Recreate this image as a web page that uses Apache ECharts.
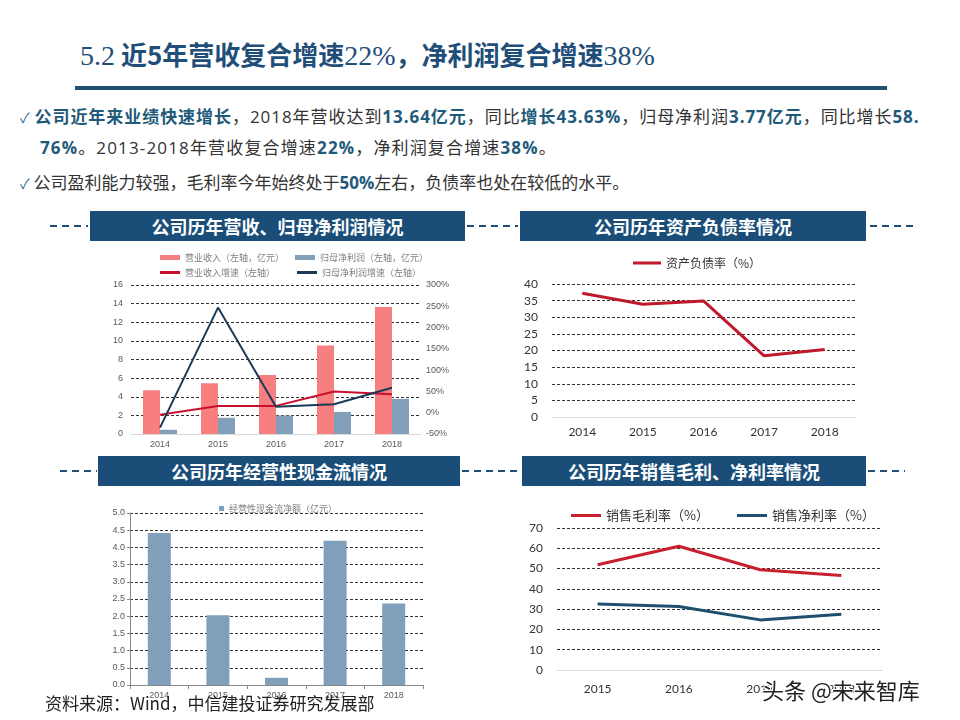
<!DOCTYPE html>
<html>
<head>
<meta charset="utf-8">
<script src="https://cdn.jsdelivr.net/npm/echarts@6/dist/echarts.min.js"></script>
<style>
body{margin:0;width:960px;height:720px;background:#fff;position:relative;overflow:hidden;font-family:"Noto Sans CJK SC",sans-serif;}
.abs{position:absolute;white-space:nowrap;}
.title{left:80px;top:36px;font-size:26px;color:#1f4e79;font-weight:bold;line-height:36px;}
.title .num{font-family:"Liberation Serif",serif;font-weight:normal;font-size:28px;}
.bul{font-size:17px;color:#333;line-height:24px;font-family:"Open Sans","Noto Sans CJK SC",sans-serif;}
.bul b{color:#1f5a7a;font-weight:bold;}
.chk{color:#2f6b8c;font-size:14px;margin-right:4px;}
.hdr{background:#1a4e78;color:#fff;font-weight:bold;font-size:18px;text-align:center;line-height:30px;height:30px;}
#chart{position:absolute;left:0;top:0;width:960px;height:720px;}
.src{left:45px;top:690px;font-size:17px;color:#222;line-height:26px;}
.wm{left:762px;top:674px;font-size:22px;color:#222;line-height:30px;
 text-shadow:1px 1px 0 #fff,-1px -1px 0 #fff,1px -1px 0 #fff,-1px 1px 0 #fff;}
</style>
</head>
<body>
<div class="abs title"><span class="num">5.2</span> 近5年营收复合增速<span class="num">22%</span>，净利润复合增速<span class="num">38%</span></div>
<div class="abs" style="left:75px;top:86px;width:812px;height:4px;background:#1f4e6e;"></div>
<div class="abs bul" style="left:20px;top:105px;letter-spacing:0.95px;"><span class="chk">✓</span><b>公司近年来业绩快速增长</b>，2018年营收达到<b>13.64亿元</b>，同比<b>增长43.63%</b>，归母净利润<b>3.77亿元</b>，同比增长<b>58.</b></div>
<div class="abs bul" style="left:40px;top:136px;letter-spacing:1.15px;"><b>76%</b>。2013-2018年营收复合增速<b>22%</b>，净利润复合增速<b>38%</b>。</div>
<div class="abs bul" style="left:20px;top:171px;letter-spacing:0px;"><span class="chk">✓</span>公司盈利能力较强，毛利率今年始终处于<b>50%</b>左右，负债率也处在较低的水平。</div>

<svg class="abs" style="left:0;top:0" width="960" height="720">
 <g stroke="#1f4e79" stroke-width="2" stroke-dasharray="7 5">
  <line x1="50" y1="226" x2="88" y2="226"/>
  <line x1="467" y1="226" x2="518" y2="226"/>
  <line x1="870" y1="226" x2="916" y2="226"/>
  <line x1="60" y1="471" x2="97" y2="471"/>
  <line x1="462" y1="471" x2="521" y2="471"/>
  <line x1="868" y1="471" x2="905" y2="471"/>
 </g>
</svg>
<div class="abs hdr" style="left:90px;top:211px;width:375px;">公司历年营收、归母净利润情况</div>
<div class="abs hdr" style="left:520px;top:211px;width:346px;">公司历年资产负债率情况</div>
<div class="abs hdr" style="left:98px;top:456px;width:362px;">公司历年经营性现金流情况</div>
<div class="abs hdr" style="left:522px;top:456px;width:344px;">公司历年销售毛利、净利率情况</div>

<div id="chart"></div>
<div class="abs src">资料来源：Wind，中信建投证券研究发展部</div>
<div class="abs wm">头条 @未来智库</div>

<script>
// ---- data ----
const years = ['2014', '2015', '2016', '2017', '2018'];
const revenue = [4.7, 5.45, 6.33, 9.5, 13.64];
const netProfit = [0.45, 1.74, 1.98, 2.37, 3.77];
const revenueGrowth = [-5, 16, 16, 50, 43.63];
const profitGrowth = [-35, 247, 14, 20, 58.76];

const debtRatio = [37.2, 33.9, 34.9, 18.4, 20.3];

const cashFlow = [4.42, 2.03, 0.21, 4.19, 2.37];

const marginYears = ['2015', '2016', '2017', '2018'];
const grossMargin = [51.9, 61.0, 49.4, 46.6];
const netMargin = [32.5, 31.3, 24.7, 27.5];

// ---- styles ----
const smallLbl = {fontFamily: 'Liberation Sans', fontSize: 9, color: '#595959'};
const bigLbl = {fontFamily: 'Lato', fontSize: 12, color: '#333'};
const legTxt = {fontFamily: 'Noto Sans CJK SC', fontSize: 9, color: '#7f7f7f'};
function dashColors(n, first) {
  const a = [first];
  for (let i = 1; i < n; i++) a.push('#333');
  return a;
}

const chart = echarts.init(document.getElementById('chart'), null, {renderer: 'canvas'});
chart.setOption({
  animation: false,
  backgroundColor: 'transparent',
  grid: [
    {left: 131, top: 285, width: 290, height: 149},
    {left: 552, top: 284, width: 303, height: 133},
    {left: 130, top: 513, width: 293, height: 172},
    {left: 557, top: 528, width: 325, height: 142}
  ],
  legend: [
    {left: 155, top: 248, itemWidth: 20, itemHeight: 5, itemGap: 11, icon: 'rect',
     textStyle: legTxt, data: ['营业收入（左轴，亿元）', '归母净利润（左轴，亿元）']},
    {left: 155, top: 263, itemWidth: 20, itemHeight: 3, itemGap: 22, icon: 'rect',
     textStyle: legTxt, data: ['营业收入增速（左轴）', '归母净利润增速（左轴）']},
    {left: 628, top: 252, itemWidth: 28, itemHeight: 3, icon: 'rect',
     textStyle: {fontFamily: 'Noto Sans CJK SC', fontSize: 12, color: '#333'}, data: ['资产负债率（%）']},
    {left: 214, top: 499, itemWidth: 5, itemHeight: 5, icon: 'rect', itemGap: 2,
     textStyle: legTxt, data: ['经营性现金流净额（亿元）']},
    {left: 566, top: 504, itemWidth: 30, itemHeight: 3, icon: 'rect', itemGap: 28,
     textStyle: {fontFamily: 'Noto Sans CJK SC', fontSize: 13, color: '#333'}, data: ['销售毛利率（%）', '销售净利率（%）']}
  ],
  xAxis: [
    {type: 'category', gridIndex: 0, data: years, axisTick: {show: false},
     axisLine: {lineStyle: {color: '#d9d9d9'}}, axisLabel: Object.assign({margin: 6}, smallLbl)},
    {type: 'category', gridIndex: 1, data: years, axisTick: {show: false},
     axisLine: {lineStyle: {color: '#d9d9d9'}}, axisLabel: Object.assign({margin: 9}, bigLbl)},
    {type: 'category', gridIndex: 2, data: years, axisTick: {show: true, length: 4, lineStyle: {color: '#888'}},
     axisLine: {lineStyle: {color: '#888'}}, axisLabel: Object.assign({margin: 6}, smallLbl)},
    {type: 'category', gridIndex: 3, data: marginYears, axisTick: {show: false},
     axisLine: {lineStyle: {color: '#d9d9d9'}}, axisLabel: Object.assign({margin: 13}, bigLbl)}
  ],
  yAxis: [
    {type: 'value', gridIndex: 0, min: 0, max: 16, interval: 2,
     axisLine: {show: false}, axisTick: {show: false}, axisLabel: Object.assign({margin: 8}, smallLbl),
     splitLine: {lineStyle: {type: [3, 2], width: 1.2, color: dashColors(9, 'rgba(0,0,0,0)')}}},
    {type: 'value', gridIndex: 0, min: -50, max: 300, interval: 50, position: 'right',
     axisLine: {show: false}, axisTick: {show: false}, splitLine: {show: false},
     axisLabel: Object.assign({margin: 5, formatter: '{value}%'}, smallLbl)},
    {type: 'value', gridIndex: 1, min: 0, max: 40, interval: 5,
     axisLine: {show: false}, axisTick: {show: false}, axisLabel: Object.assign({margin: 14}, bigLbl),
     splitLine: {lineStyle: {type: [3, 2], width: 1, color: dashColors(9, 'rgba(0,0,0,0)')}}},
    {type: 'value', gridIndex: 2, min: 0, max: 5, interval: 0.5,
     axisLine: {show: true, lineStyle: {color: '#888'}}, axisTick: {show: true, length: 3, lineStyle: {color: '#888'}},
     axisLabel: Object.assign({margin: 5, formatter: v => v.toFixed(1)}, smallLbl),
     splitLine: {lineStyle: {type: [3, 2], width: 1.2, color: dashColors(11, 'rgba(0,0,0,0)')}}},
    {type: 'value', gridIndex: 3, min: 0, max: 70, interval: 10,
     axisLine: {show: false}, axisTick: {show: false}, axisLabel: Object.assign({margin: 14}, bigLbl),
     splitLine: {lineStyle: {type: [3, 2], width: 1, color: dashColors(8, 'rgba(0,0,0,0)')}}}
  ],
  series: [
    {name: '营业收入（左轴，亿元）', type: 'bar', xAxisIndex: 0, yAxisIndex: 0, data: revenue,
     barWidth: 17, barGap: '0%', itemStyle: {color: '#f77f7f'}},
    {name: '归母净利润（左轴，亿元）', type: 'bar', xAxisIndex: 0, yAxisIndex: 0, data: netProfit,
     barWidth: 17, barGap: '0%', itemStyle: {color: '#819fb9'}},
    {name: '营业收入增速（左轴）', type: 'line', xAxisIndex: 0, yAxisIndex: 1, data: revenueGrowth,
     symbol: 'none', lineStyle: {color: '#c8102e', width: 2}, itemStyle: {color: '#c8102e'}},
    {name: '归母净利润增速（左轴）', type: 'line', xAxisIndex: 0, yAxisIndex: 1, data: profitGrowth,
     symbol: 'none', lineStyle: {color: '#1b3a57', width: 2}, itemStyle: {color: '#1b3a57'}},
    {name: '资产负债率（%）', type: 'line', xAxisIndex: 1, yAxisIndex: 2, data: debtRatio,
     symbol: 'none', lineStyle: {color: '#c0192b', width: 3}, itemStyle: {color: '#c0192b'}},
    {name: '经营性现金流净额（亿元）', type: 'bar', xAxisIndex: 2, yAxisIndex: 3, data: cashFlow,
     barWidth: 23, itemStyle: {color: '#809fba'}},
    {name: '销售毛利率（%）', type: 'line', xAxisIndex: 3, yAxisIndex: 4, data: grossMargin,
     symbol: 'none', lineStyle: {color: '#c8202f', width: 3}, itemStyle: {color: '#c8202f'}},
    {name: '销售净利率（%）', type: 'line', xAxisIndex: 3, yAxisIndex: 4, data: netMargin,
     symbol: 'none', lineStyle: {color: '#1f4e6e', width: 3}, itemStyle: {color: '#1f4e6e'}}
  ]
});
</script>
</body>
</html>
